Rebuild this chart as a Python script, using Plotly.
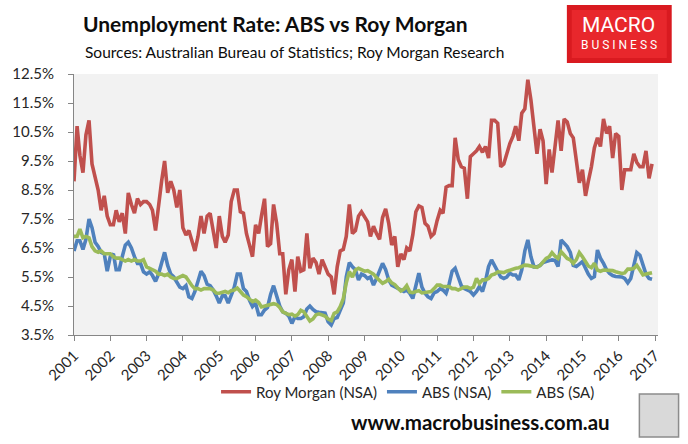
import pandas as pd
import plotly.graph_objects as go

# monthly series, Jan 2001 - Dec 2016
months = pd.date_range("2001-01-01", "2016-12-01", freq="MS")

roy_morgan = [
    8.8, 10.7, 9.7, 9.1, 10.4, 10.9, 9.4, 8.9, 8.5, 7.8, 8.3, 7.6,
    7.3, 7.3, 7.8, 7.4, 7.7, 7.0, 8.4, 8.0, 7.7, 8.2, 8.0, 8.1,
    8.1, 8.0, 7.8, 7.1, 8.0, 8.8, 9.5, 8.4, 8.8, 8.5, 7.9, 8.5,
    7.2, 6.95, 7.1, 6.7, 6.4, 6.9, 7.6, 7.0, 7.6, 7.7, 7.0, 6.5,
    7.6, 6.9, 6.7, 6.95, 8.1, 8.5, 8.5, 7.75, 7.7, 7.0, 6.6, 6.2,
    7.3, 7.0, 7.6, 8.2, 6.55, 6.65, 8.0, 7.35, 6.3, 6.3, 4.9, 5.75,
    6.1, 5.0, 6.2, 5.7, 5.75, 7.0, 5.8, 6.15, 6.0, 5.6, 6.1, 5.85,
    5.6, 5.5, 4.9, 5.85, 6.4, 6.45, 6.9, 8.0, 7.0, 7.1, 7.6, 7.75,
    7.6, 7.4, 6.9, 7.25, 7.0, 6.8, 7.55, 7.85, 7.35, 6.6, 6.9, 5.85,
    6.3, 6.1, 6.5, 6.4, 6.95, 7.75, 7.95, 7.9, 7.35, 7.25, 6.9, 7.0,
    7.45, 7.8, 7.7, 8.6, 8.65, 8.65, 10.3, 9.55, 9.3, 9.25, 8.2, 9.65,
    9.75, 9.85, 10.0, 9.8, 10.0, 9.6, 10.9, 10.9, 10.8, 9.3, 9.4, 9.75,
    10.1, 10.35, 10.7, 10.2, 11.15, 11.3, 12.3, 11.6, 10.7, 9.75, 10.6, 10.2,
    8.7, 9.9, 9.1, 9.9, 10.9, 9.85, 10.95, 10.85, 10.45, 10.3, 9.55, 8.75,
    9.2, 8.3, 8.8, 9.3, 9.95, 10.3, 10.0, 10.95, 10.45, 10.7, 9.6, 10.45,
    10.35, 8.5, 9.2, 9.2, 9.2, 9.75, 9.45, 9.3, 9.3, 9.85, 8.9, 9.4,
]

abs_nsa = [
    6.4, 6.75, 6.75, 6.45, 6.8, 7.5, 7.2, 6.7, 6.55, 6.35, 6.3, 5.7,
    6.2, 6.3, 5.75, 5.75, 6.2, 6.6, 6.7, 6.5, 6.2, 5.97, 5.97, 5.68,
    5.6, 5.68, 5.55, 5.35, 5.6, 6.0, 6.35, 5.9, 5.6, 5.5, 5.3, 5.15,
    5.1, 5.2, 4.82, 4.76, 5.0, 5.35, 5.7, 5.55, 5.25, 5.2, 5.05, 4.85,
    4.6, 4.85, 4.85, 4.6, 4.9, 5.15, 5.6, 5.6, 5.1, 5.0, 4.7, 4.48,
    4.6, 4.2, 4.2, 4.36, 4.45, 4.9, 5.2, 4.85, 4.5, 4.3, 4.25, 4.15,
    3.9, 4.13, 4.07, 4.07, 4.13, 4.4, 4.5, 4.38, 4.3, 4.28, 4.25, 4.25,
    3.96, 3.85, 4.07, 4.1, 4.35, 4.6, 5.5, 6.0, 5.85, 5.75, 5.4, 5.6,
    5.55, 5.45, 5.5, 5.22, 5.45, 5.68, 5.97, 5.75, 5.4, 5.22, 5.17, 5.1,
    5.05, 5.0, 5.05, 4.94, 4.76, 5.2, 5.63, 5.15, 4.94, 4.82, 4.76, 4.95,
    5.0, 5.1, 5.05, 4.94, 5.25, 5.7, 5.8, 5.5, 5.2, 5.1, 5.05, 5.0,
    4.88, 5.0, 5.17, 5.0, 5.35, 5.86, 6.09, 5.9, 5.65, 5.5, 5.45, 5.5,
    5.63, 5.57, 5.57, 5.4, 5.75, 6.4, 6.78, 6.2, 5.85, 5.85, 5.9, 6.0,
    6.03, 6.07, 6.09, 6.07, 5.86, 6.78, 6.66, 6.55, 6.35, 5.9, 5.86, 5.95,
    6.03, 5.8, 5.6, 5.45, 5.51, 6.43, 6.15, 5.97, 5.75, 5.62, 5.55, 5.52,
    5.52, 5.5, 5.45, 5.3, 5.45, 5.86, 6.34, 6.25, 5.9, 5.6, 5.45, 5.42,
]

abs_sa = [
    6.9, 6.9, 7.15, 6.85, 6.9, 6.85, 6.55, 6.4, 6.35, 6.4, 6.3, 6.3,
    6.3, 6.2, 6.15, 6.15, 6.1, 6.05, 6.1, 6.05, 6.1, 6.05, 6.05, 6.1,
    5.85, 5.8, 5.75, 5.7, 5.6, 5.6, 5.55, 5.6, 5.5, 5.45, 5.45, 5.5,
    5.55, 5.5, 5.35, 5.2, 5.1, 5.1, 5.05, 5.1, 5.1, 5.1, 5.05, 4.95,
    4.94, 4.97, 5.0, 4.96, 5.03, 5.05, 5.12, 5.0, 4.88, 4.82, 4.73, 4.65,
    4.7, 4.62, 4.47, 4.5, 4.53, 4.55, 4.58, 4.55, 4.45, 4.3, 4.25, 4.2,
    4.22, 4.15, 4.2, 4.35, 4.3, 4.13, 3.98, 4.05, 4.2, 4.23, 4.2, 4.15,
    4.05, 4.0, 4.25, 4.3, 4.48, 4.75, 5.3, 5.68, 5.5, 5.74, 5.8, 5.75,
    5.7, 5.72, 5.66, 5.6, 5.48, 5.38, 5.28, 5.34, 5.42, 5.3, 5.24, 5.12,
    5.02, 5.08, 5.2, 4.98, 4.96, 5.0, 5.03, 4.95, 4.97, 4.96, 5.0, 5.1,
    5.22, 5.22, 5.17, 5.17, 5.17, 5.1, 5.1, 5.05, 5.1, 5.15, 5.15, 5.1,
    5.15, 5.45, 5.28, 5.4, 5.4, 5.45, 5.57, 5.6, 5.68, 5.68, 5.65, 5.7,
    5.74, 5.76, 5.8, 5.82, 5.86, 5.91, 5.9, 5.88, 5.85, 5.83, 5.9, 6.03,
    6.14, 6.2, 6.34, 6.22, 6.14, 6.37, 6.25, 6.14, 6.09, 5.97, 6.1, 6.34,
    6.2, 6.0, 5.88, 5.82, 5.97, 5.74, 5.7, 5.74, 5.74, 5.75, 5.72, 5.68,
    5.65, 5.62, 5.64, 5.77, 5.77, 5.8, 5.9, 5.74, 5.57, 5.6, 5.63, 5.65,
]

y_ticks = [3.5, 4.5, 5.5, 6.5, 7.5, 8.5, 9.5, 10.5, 11.5, 12.5]
year_ticks = [f"{y}-01-01" for y in range(2001, 2018)]

FONT = "Lato"
TXT = "#262626"
AXIS = "#868686"

fig = go.Figure()
for name, vals, col in [("Roy Morgan (NSA)", roy_morgan, "#c0504d"),
                        ("ABS (NSA)", abs_nsa, "#4f81bd"),
                        ("ABS (SA)", abs_sa, "#9bbb59")]:
    fig.add_trace(go.Scatter(x=months, y=vals, name=name, mode="lines",
                             line=dict(color=col, width=3.6)))

fig.update_layout(
    width=688, height=444,
    margin=dict(l=62, r=30, t=74, b=109),
    paper_bgcolor="white", plot_bgcolor="#f2f2f2",
    font=dict(family=FONT, size=14, color=TXT),
    hovermode=False,
    showlegend=True,
    legend=dict(orientation="h", x=0.572, y=-0.155, xanchor="center", yanchor="top",
                bgcolor="rgba(0,0,0,0)",
                font=dict(size=15, color=TXT), itemwidth=30, tracegroupgap=0),
    xaxis=dict(range=["2001-01-01", "2017-01-30"], tickvals=year_ticks,
               tickformat="%Y", tickangle=-45, showgrid=False, zeroline=False,
               showline=True, linecolor=AXIS, linewidth=1,
               ticks="outside", ticklen=5, tickcolor=AXIS,
               tickfont=dict(size=15, color=TXT)),
    yaxis=dict(range=[3.5, 12.5], tickvals=y_ticks,
               ticktext=[f"{v:.1f}%" for v in y_ticks],
               showgrid=False, zeroline=False, showline=True, linecolor=AXIS,
               linewidth=1, ticks="outside", ticklen=5, tickcolor=AXIS,
               ticklabelstandoff=11, tickfont=dict(size=15, color=TXT)),
)


# logo box and wolf picture frame (positions in pixels -> paper units)
def px(x):
    return (x - 62) / 596


def py(y):
    return (335 - y) / 261


fig.add_shape(type="rect", xref="paper", yref="paper",
              x0=px(565), x1=px(672), y0=py(63), y1=py(5),
              fillcolor="#d91a20", line=dict(width=0))
fig.add_shape(type="rect", xref="paper", yref="paper",
              x0=px(570), x1=px(667), y0=py(58), y1=py(10),
              fillcolor="#e8272c", line=dict(width=0))
fig.add_shape(type="rect", xref="paper", yref="paper",
              x0=px(639), x1=px(679), y0=py(437), y1=py(394),
              fillcolor="#d9d9d9", line=dict(color="#8c8c8c", width=1.5))

notes = [
    dict(text="<b>Unemployment Rate: ABS vs Roy Morgan</b>", x=69, y=24, size=21, anchor="left", color="#0d0d0d", fam=FONT),
    dict(text="Sources: Australian Bureau of Statistics; Roy Morgan Research", x=71, y=52, size=15.5, anchor="left", color="#0d0d0d", fam=FONT),
    dict(text="MACRO", x=618, y=25, size=21, anchor="center", color="white", fam="Roboto"),
    dict(text="B U S I N E S S", x=618, y=45, size=12, anchor="center", color="white", fam="Roboto"),
    dict(text="<b>www.macrobusiness.com.au</b>", x=477, y=422, size=20.5, anchor="center", color="#0d0d0d", fam=FONT),
]
for n in notes:
    fig.add_annotation(text=n["text"], xref="paper", yref="paper",
                       x=px(n["x"]), y=py(n["y"]),
                       xanchor=n["anchor"], yanchor="middle", showarrow=False,
                       font=dict(family=n["fam"], size=n["size"], color=n["color"]))

# the page's default body margin would shift the figure by 8px
fig.write_html("out.html", config={"displayModeBar": False},
               post_script="document.body.style.margin='0';")
